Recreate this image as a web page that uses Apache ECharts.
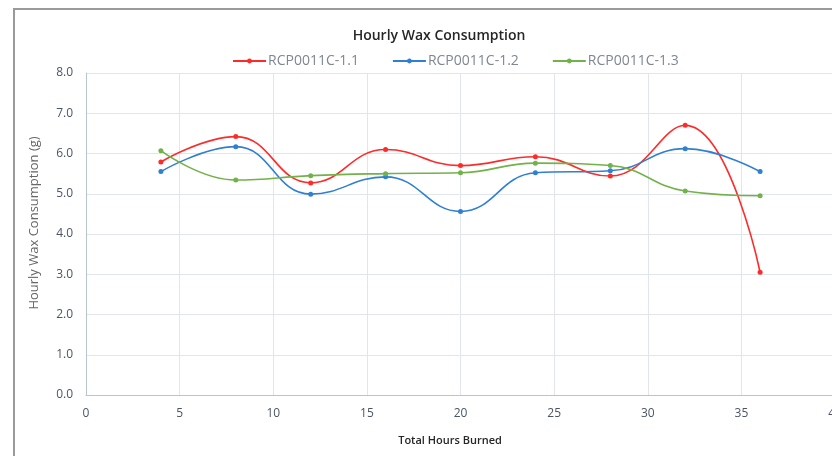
<!DOCTYPE html>
<html>
<head>
<meta charset="utf-8">
<script src="https://cdn.jsdelivr.net/npm/echarts@6/dist/echarts.min.js"></script>
<style>
  html, body { margin: 0; padding: 0; background: #fff; }
  #main { width: 832px; height: 456px; }
</style>
</head>
<body>
<div id="main"></div>
<script>
// hours burned (x values)
var hours = [4, 8, 12, 16, 20, 24, 28, 32, 36];
// hourly wax consumption in grams
var rcp11 = [5.79, 6.42, 5.27, 6.10, 5.70, 5.92, 5.44, 6.70, 3.05];
var rcp12 = [5.55, 6.17, 4.99, 5.42, 4.56, 5.52, 5.57, 6.12, 5.55];
var rcp13 = [6.07, 5.34, 5.45, 5.50, 5.52, 5.76, 5.70, 5.07, 4.95];
var seriesNames = ['RCP0011C-1.1', 'RCP0011C-1.2', 'RCP0011C-1.3'];

function pairs(ys) {
    return hours.map(function (h, i) { return [h, ys[i]]; });
}

var myChart = echarts.init(document.getElementById('main'));

function line(name, data, color) {
    return {
        name: name,
        type: 'line',
        data: pairs(data),
        smooth: 0.45,
        symbol: 'circle',
        symbolSize: 5,
        lineStyle: { color: color, width: 1.6 },
        itemStyle: { color: color },
        z: 3
    };
}

myChart.setOption({
    animation: false,
    title: [
        {
            text: 'Hourly Wax Consumption',
            left: 434, top: 24, textAlign: 'center',
            textStyle: { fontFamily: 'Open Sans', fontSize: 14, fontWeight: 600, color: '#262626' }
        },
        {
            text: 'Total Hours Burned',
            left: 445, top: 430, textAlign: 'center',
            textStyle: { fontFamily: 'Open Sans', fontSize: 11, fontWeight: 600, color: '#262626' }
        }
    ],
    legend: {
        top: 49,
        left: 227,
        itemGap: 33,
        itemWidth: 33,
        itemHeight: 6,
        data: seriesNames,
        textStyle: { fontFamily: 'Open Sans', fontSize: 14, color: '#7f8793', padding: [0, 0, 0, -3] }
    },
    grid: { left: 86, right: -3, top: 73, bottom: 61, outerBoundsMode: 'none' },
    xAxis: {
        type: 'value',
        min: 0, max: 40, interval: 5,
        axisLine: { lineStyle: { color: '#b7c4d6', width: 1 } },
        axisTick: { show: false },
        axisLabel: { color: '#4a5566', fontFamily: 'Open Sans', fontSize: 12, margin: 13 },
        splitLine: { show: true, lineStyle: { color: '#e1e5ec' } }
    },
    yAxis: {
        type: 'value',
        min: 0, max: 8, interval: 1,
        name: 'Hourly Wax Consumption (g)',
        nameLocation: 'middle',
        nameGap: 45,
        nameTextStyle: { fontFamily: 'Open Sans', fontSize: 13, color: '#666', padding: [0, 0, 0, 22] },
        axisLine: { show: true, lineStyle: { color: '#b7c4d6', width: 1 } },
        axisTick: { show: false },
        axisLabel: {
            color: '#4a5566', fontFamily: 'Open Sans', fontSize: 12, margin: 13,
            formatter: function (v) { return v.toFixed(1); }
        },
        splitLine: { lineStyle: { color: '#e1e5ec' } }
    },
    graphic: [
        {
            type: 'polyline',
            shape: { points: [[14, 456], [14, 9], [832, 9]] },
            style: { stroke: '#9a9a9a', lineWidth: 2, fill: null },
            silent: true
        }
    ],
    series: [
        line(seriesNames[0], rcp11, '#ff2a2a'),
        line(seriesNames[1], rcp12, '#2f7fd2'),
        line(seriesNames[2], rcp13, '#72b24a')
    ]
});
</script>
</body>
</html>
